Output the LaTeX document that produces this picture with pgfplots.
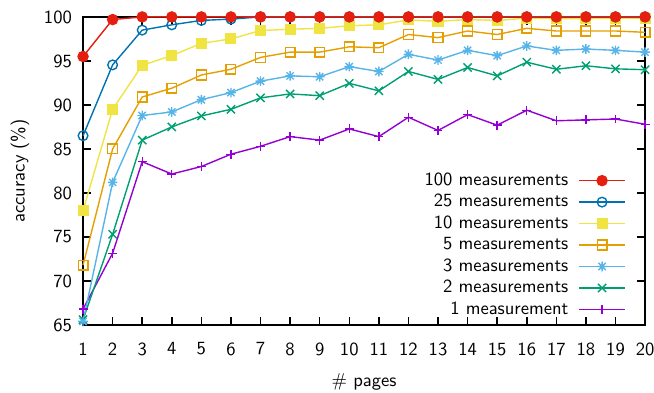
\documentclass[border=0pt]{standalone}
\usepackage{pgfplots}
\pgfplotsset{compat=1.18}
\definecolor{gpred}{HTML}{E51E10}
\definecolor{gpblue}{HTML}{0072B2}
\definecolor{gpyellow}{HTML}{F0E442}
\definecolor{gporange}{HTML}{E69F00}
\definecolor{gplblue}{HTML}{56B4E9}
\definecolor{gpgreen}{HTML}{009E73}
\definecolor{gppurple}{HTML}{9400D3}
\pgfdeclareplotmark{gpstar}{%
  \pgfpathmoveto{\pgfqpoint{-\pgfplotmarksize}{0pt}}%
  \pgfpathlineto{\pgfqpoint{\pgfplotmarksize}{0pt}}%
  \pgfpathmoveto{\pgfqpoint{0pt}{-\pgfplotmarksize}}%
  \pgfpathlineto{\pgfqpoint{0pt}{\pgfplotmarksize}}%
  \pgfpathmoveto{\pgfqpoint{-0.75\pgfplotmarksize}{-0.75\pgfplotmarksize}}%
  \pgfpathlineto{\pgfqpoint{0.75\pgfplotmarksize}{0.75\pgfplotmarksize}}%
  \pgfpathmoveto{\pgfqpoint{-0.75\pgfplotmarksize}{0.75\pgfplotmarksize}}%
  \pgfpathlineto{\pgfqpoint{0.75\pgfplotmarksize}{-0.75\pgfplotmarksize}}%
  \pgfusepathqstroke}
\pgfdeclareplotmark{gpx}{%
  \pgfpathmoveto{\pgfqpoint{-\pgfplotmarksize}{-\pgfplotmarksize}}%
  \pgfpathlineto{\pgfqpoint{\pgfplotmarksize}{\pgfplotmarksize}}%
  \pgfpathmoveto{\pgfqpoint{-\pgfplotmarksize}{\pgfplotmarksize}}%
  \pgfpathlineto{\pgfqpoint{\pgfplotmarksize}{-\pgfplotmarksize}}%
  \pgfusepathqstroke}
\begin{document}
\begin{tikzpicture}[font=\sffamily]
\begin{axis}[
  scale only axis,
  width=302.5pt, height=165.8pt,
  xmin=1, xmax=20, ymin=65, ymax=100,
  xtick={1,...,20}, ytick={65,70,...,100},
  tick align=inside,
  major tick length=4.5pt,
  axis line style={line width=0.8pt},
  every tick/.style={black, line width=0.8pt},
  /pgf/number format/assume math mode=true,
  tick label style={font=\sffamily},
  xticklabel style={yshift=-6pt},
  yticklabel style={xshift=-2.5pt},
  xlabel={\# pages}, ylabel={accuracy (\%)},
  xlabel style={at={(axis description cs:0.5,-0.185)}, anchor=center},
  ylabel style={at={(axis description cs:-0.112,0.5)}, anchor=center},
  clip=false,
  every axis plot/.append style={line width=0.75pt},
  reverse legend,
  legend plot pos=right,
  legend cell align=right,
  legend image code/.code={\draw[mark repeat=2,mark phase=2] plot coordinates {(0cm,0cm) (0.435cm,0cm) (0.87cm,0cm)};},
  legend style={draw=none, fill=none, at={(axis description cs:1,0)}, anchor=south east,
    xshift=-10.2pt, yshift=2.4pt, inner sep=0pt, column sep=5.4pt,
    nodes={inner sep=0pt, minimum height=11.55pt, text height=7pt, text depth=2pt}},
]
\addplot[gppurple, mark=+, mark size=2.4pt, mark options={solid}] coordinates {
(1,66.8) (2,73.15) (3,83.55) (4,82.15) (5,83.0) (6,84.4) (7,85.3) (8,86.4) (9,86.0) (10,87.27)
(11,86.4) (12,88.6) (13,87.1) (14,88.9) (15,87.7) (16,89.4) (17,88.2) (18,88.3) (19,88.4) (20,87.8)};
\addlegendentry{1 measurement}
\addplot[gpgreen, mark=gpx, mark size=2.2pt] coordinates {
(1,65.6) (2,75.3) (3,86.0) (4,87.5) (5,88.75) (6,89.5) (7,90.8) (8,91.25) (9,91.05) (10,92.45)
(11,91.6) (12,93.8) (13,92.9) (14,94.25) (15,93.3) (16,94.85) (17,94.05) (18,94.45) (19,94.1) (20,94.0)};
\addlegendentry{2 measurements}
\addplot[gplblue, mark=gpstar, mark size=2.6pt] coordinates {
(1,65.4) (2,81.2) (3,88.8) (4,89.2) (5,90.6) (6,91.4) (7,92.7) (8,93.3) (9,93.2) (10,94.35)
(11,93.8) (12,95.75) (13,95.1) (14,96.2) (15,95.6) (16,96.7) (17,96.2) (18,96.35) (19,96.2) (20,96.0)};
\addlegendentry{3 measurements}
\addplot[gporange, mark=square, mark size=2.6pt] coordinates {
(1,71.8) (2,85.0) (3,90.9) (4,91.9) (5,93.4) (6,94.05) (7,95.4) (8,96.0) (9,96.0) (10,96.6)
(11,96.5) (12,98.0) (13,97.65) (14,98.4) (15,98.0) (16,98.7) (17,98.4) (18,98.4) (19,98.4) (20,98.25)};
\addlegendentry{5 measurements}
\addplot[gpyellow, mark=square*, mark size=2.6pt] coordinates {
(1,78.0) (2,89.5) (3,94.5) (4,95.6) (5,97.0) (6,97.5) (7,98.45) (8,98.6) (9,98.7) (10,99.0)
(11,99.1) (12,99.66) (13,99.5) (14,99.7) (15,99.6) (16,99.85) (17,99.8) (18,99.8) (19,99.85) (20,99.85)};
\addlegendentry{10 measurements}
\addplot[gpblue, mark=o, mark size=2.6pt] coordinates {
(1,86.5) (2,94.55) (3,98.5) (4,99.1) (5,99.6) (6,99.75) (7,100) (8,100) (9,100) (10,100)
(11,100) (12,100) (13,100) (14,100) (15,100) (16,100) (17,100) (18,100) (19,100) (20,100)};
\addlegendentry{25 measurements}
\addplot[gpred, mark=*, mark size=2.7pt, mark options={fill=gpred}] coordinates {
(1,95.5) (2,99.7) (3,100) (4,100) (5,100) (6,100) (7,100) (8,100) (9,100) (10,100)
(11,100) (12,100) (13,100) (14,100) (15,100) (16,100) (17,100) (18,100) (19,100) (20,100)};
\addlegendentry{100 measurements}
\end{axis}
\pgfresetboundingbox
\path[use as bounding box] ([xshift=-44.7pt,yshift=-36.6pt]current axis.south west) rectangle ++(352pt,211.5pt);
\end{tikzpicture}
\end{document}
